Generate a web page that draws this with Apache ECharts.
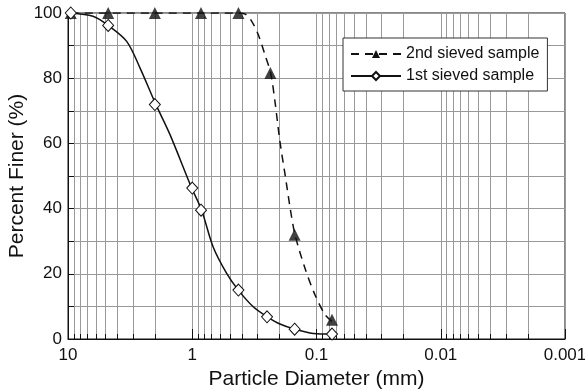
<!DOCTYPE html>
<html>
<head>
<meta charset="utf-8">
<script src="https://cdn.jsdelivr.net/npm/echarts@6/dist/echarts.min.js"></script>
<style>
  html, body { margin: 0; padding: 0; background: #fff; }
  #chart { width: 585px; height: 392px; }
</style>
</head>
<body>
<div id="chart"></div>
<script>
  // sieve data
  const firstSizes = [9.5, 4.75, 2.0, 1.0, 0.85, 0.425, 0.25, 0.15, 0.075]
  const firstPassing = [100, 96.2, 71.9, 46.3, 39.5, 15.0, 6.8, 3.0, 1.5]
  const secondSizes = [9.5, 4.75, 2.0, 0.85, 0.425, 0.235, 0.15, 0.075]
  const secondPassing = [100, 100, 100, 100, 100, 81.6, 32.0, 5.9]

  // fitted curves
  const firstCurveSizes = [9.5, 6.3, 4.75, 3.37, 2.63, 1.96, 1.51, 1.01, 0.84, 0.68, 0.53, 0.426, 0.323, 0.249, 0.197, 0.149, 0.106, 0.0755]
  const firstCurvePassing = [100, 99.0, 96.2, 91.3, 83.1, 71.9, 62.7, 46.3, 39.5, 28.3, 20.2, 15.0, 9.9, 6.8, 4.6, 3.0, 1.7, 1.5]
  const secondCurveSizes = [9.5, 4.75, 2.0, 0.85, 0.45, 0.376, 0.333, 0.294, 0.26, 0.234, 0.216, 0.197, 0.179, 0.163, 0.149, 0.124, 0.103, 0.0855, 0.0752]
  const secondCurvePassing = [100, 100, 100, 100, 100, 99.7, 97.5, 93.3, 87.2, 81.6, 72.9, 60.6, 50.4, 40.2, 32.0, 21.8, 13.6, 7.5, 5.4]

  const xTickLabels = ['10', '1', '0.1', '0.01', '0.001']
  const minorTicks = [
    9, 8, 7, 6, 5, 4, 3, 2,
    0.9, 0.8, 0.7, 0.6, 0.5, 0.4, 0.3, 0.2,
    0.09, 0.08, 0.07, 0.06, 0.05, 0.04, 0.03, 0.02,
    0.009, 0.008, 0.007, 0.006, 0.005, 0.004, 0.003, 0.002,
  ]

  const name1 = '1st sieved sample'
  const name2 = '2nd sieved sample'
  const font = 'Liberation Sans, Arial, sans-serif'
  const ink = '#111'
  const gridGray = '#9a9a9a'

  const zip = (xs, ys) => xs.map((x, i) => [x, ys[i]])

  const chart = echarts.init(document.getElementById('chart'))

  const option = {
    animation: false,
    backgroundColor: '#fff',
    grid: {
      left: 68,
      right: 20,
      top: 13,
      bottom: 53,
      outerBoundsMode: 'none',
      show: true,
      borderColor: ink,
      borderWidth: 1,
    },
    legend: {
      data: [name2, name1],
      orient: 'vertical',
      left: 343,
      top: 38,
      itemWidth: 50,
      itemHeight: 10,
      itemGap: 6,
      padding: [8, 8, 7, 7],
      borderColor: '#333',
      borderWidth: 1,
      backgroundColor: '#fff',
      textStyle: { fontSize: 16, color: ink, fontFamily: font },
    },
    xAxis: {
      type: 'log',
      logBase: 10,
      min: 0.001,
      max: 10,
      inverse: true,
      name: 'Particle Diameter (mm)',
      nameLocation: 'middle',
      nameGap: 29,
      nameTextStyle: { fontSize: 21, color: ink, fontFamily: font },
      axisLine: { lineStyle: { color: ink, width: 1 } },
      axisTick: { inside: true, length: 10, lineStyle: { color: ink } },
      axisLabel: {
        fontSize: 17,
        color: ink,
        fontFamily: font,
        margin: 8,
        formatter: (v) => xTickLabels[Math.round(1 - Math.log10(v))],
      },
      splitLine: { show: true, lineStyle: { color: gridGray, width: 1 } },
    },
    yAxis: {
      type: 'value',
      min: 0,
      max: 100,
      interval: 10,
      name: 'Percent Finer (%)',
      nameLocation: 'middle',
      nameGap: 40,
      nameMoveOverlap: false,
      nameTextStyle: { fontSize: 21, color: ink, fontFamily: font },
      axisLine: { show: true, lineStyle: { color: ink, width: 1 } },
      axisTick: { show: true, inside: true, length: 7, lineStyle: { color: ink } },
      axisLabel: {
        fontSize: 17,
        color: ink,
        fontFamily: font,
        margin: 6,
        formatter: (v) => (v % 20 === 0 ? String(v) : ''),
      },
      splitLine: { show: true, lineStyle: { color: gridGray, width: 1 } },
    },
    series: [
      {
        // log minor grid lines and bottom minor ticks
        type: 'custom',
        silent: true,
        z: 1,
        data: minorTicks.map((v) => [v, 0]),
        renderItem: function (params, api) {
          const b = api.coord([api.value(0), 0])
          const t = api.coord([api.value(0), 100])
          const x = Math.round(b[0]) + 0.5
          return {
            type: 'group',
            children: [
              {
                type: 'line',
                shape: { x1: x, y1: b[1], x2: x, y2: t[1] },
                style: { stroke: gridGray, lineWidth: 1 },
              },
              {
                type: 'line',
                shape: { x1: x, y1: b[1], x2: x, y2: b[1] - 5 },
                style: { stroke: ink, lineWidth: 1 },
              },
            ],
          }
        },
      },
      {
        name: name2,
        type: 'line',
        data: zip(secondCurveSizes, secondCurvePassing),
        smooth: 0.3,
        symbol: 'triangle',
        showSymbol: false,
        color: ink,
        itemStyle: { color: ink },
        lineStyle: { color: ink, width: 1.5, type: [8, 6] },
        z: 3,
      },
      {
        name: name1,
        type: 'line',
        data: zip(firstCurveSizes, firstCurvePassing),
        smooth: 0.3,
        symbol: 'diamond',
        showSymbol: false,
        color: ink,
        itemStyle: { color: '#fff', borderColor: ink, borderWidth: 1 },
        lineStyle: { color: ink, width: 1.5 },
        z: 3,
      },
      {
        name: name2 + ' points',
        type: 'scatter',
        data: zip(secondSizes, secondPassing),
        symbol: 'triangle',
        symbolSize: 12,
        itemStyle: { color: ink },
        z: 4,
      },
      {
        name: name1 + ' points',
        type: 'scatter',
        data: zip(firstSizes, firstPassing),
        symbol: 'diamond',
        symbolSize: [11, 12],
        itemStyle: { color: '#fff', borderColor: ink, borderWidth: 1, opacity: 1 },
        z: 4,
      },
    ],
  }

  chart.setOption(option)
</script>
</body>
</html>
